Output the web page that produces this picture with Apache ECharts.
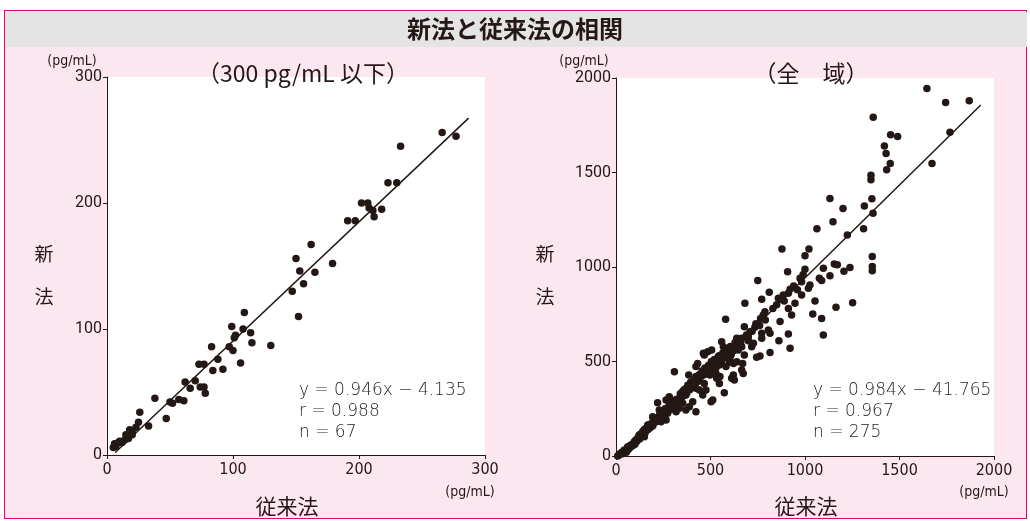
<!DOCTYPE html>
<html>
<head>
<meta charset="utf-8">
<script src="https://cdn.jsdelivr.net/npm/echarts@6.0.0/dist/echarts.min.js"></script>
<style>
  body { margin: 0; background: #fff; }
  #frame { position: absolute; left: 4px; top: 10px; width: 1021px; height: 507px; border: 1.5px solid #e5007f; background: #fce7f0; }
  #band { position: absolute; left: 5.5px; top: 11.5px; width: 1021px; height: 35px; background: #e4e4e5; }
  #chart { position: absolute; left: 0; top: 0; width: 1030px; height: 521px; }
</style>
</head>
<body>
<div id="frame"></div>
<div id="band"></div>
<div id="chart"></div>
<script>
// 300 pg/mL 以下 (従来法, 新法)
const lowPoints = [
  [266,256],[277,253],[233,245],[223,216],[230,216],[202,200],[207,200],[208,196],[211,194],[218,195],
  [191,186],[197,186],[212,189],[162,167],
  [150,156],[153,146],[165,145],[179,152],[156,136],[147,130],[152,110],
  [109,113],[99,102],[108,100],[102,95],[101,93],[114,97],[115,89],[130,87],[97,86],[100,83],[83,86],
  [88,76],[106,73],[92,68],[84,67],
  [73,72],[77,72],[62,58],[70,59],[66,53],[74,54],[77,54],[78,49],
  [50,42],[52,41],[57,44],[61,43],[38,45],[47,29],[26,34],[25,26],[33,23],[23,22],[18,20],
  [15,16],[20,16],[17,13],[14,12],[10,11],[9,10],[6,9],[5,6],[12,10],[20,18],[16,14],[7,7]
];
// 全域 (従来法, 新法)
const allPoints = [
  [1645,1945],[1744,1871],[1869,1880],[1767,1713],[1672,1547],[1361,1792],[1453,1700],[1490,1691],
  [1420,1640],[1429,1600],[1451,1547],[1432,1515],[1349,1485],[1349,1462],[1132,1363],[1201,1310],
  [1314,1323],[1354,1361],[1360,1284],[1148,1240],[1063,1203],[1310,1203],[1224,1169],[878,1095],
  [1021,1095],[1000,1060],[1356,1056],
  [1356,1002],[1356,980],[1155,1016],[1171,1012],[1238,998],[1206,977],[1132,954],[1097,993],
  [1000,988],[908,975],[750,928],[974,940],[982,922],[1076,940],[1088,928],[1026,905],[1018,887],
  [921,882],[912,861],[811,866],[771,829],[859,834],[885,852],[982,852],[682,808],[1053,820],
  [1252,811],[1164,787],[947,808],[912,781],[929,746],[1041,751],[1088,728],[788,763],[779,746],
  [580,723],[868,711],[1097,640],[765,728],[753,693],[735,681],[679,684],[806,667],[815,649],
  [771,649],[771,623],[709,658],[700,631],[912,645],[862,610],[921,570],[665,623],[639,623],
  [727,596],[718,578],[665,578],[647,561],[559,605],[568,578],[612,561],[815,547],[762,529],
  [744,522],[506,561],[462,543],[541,525],[533,499],[559,490],[586,525],[603,508],[621,490],
  [639,499],[670,490],[665,455],[673,437],[621,428],[612,411],[524,455],[515,437],[497,428],
  [550,420],[533,411],
  [679,534],[609,534],[485,552],[467,534],[432,490],[423,473],[547,481],[600,499],[582,473],
  [512,473],[494,446],[476,437],[529,437],[538,411],[547,384],[617,411],[626,402],[573,335],
  [512,296],[503,287],[441,349],[459,323],[423,358],[388,367],[379,349],[353,340],[344,314],
  [370,323],[309,446],[385,428],[423,420],[415,393],[441,411],[467,384],[476,349],[406,287],
  [388,261],[423,234],[370,243],[353,279],[335,252],[318,234],[300,252],[282,314],[265,296],
  [291,296],[220,282],[229,243],[247,226],[273,226],[265,190],[238,181],[194,208],[203,181],
  [185,155],[168,164],[159,137],[141,129],[150,102],[123,111],[115,93],[97,76],[79,58],[62,49],
  [44,32],[26,14],[9,0],
  [15,5],[20,10],[30,18],[35,12],[40,25],[50,30],[55,20],[60,40],[65,35],[70,52],[75,45],[85,60],
  [90,55],[95,70],[100,62],[105,85],[110,78],[118,100],[125,90],[130,115],[135,105],[145,120],
  [150,140],[155,125],[162,150],[170,140],[175,165],[180,150],[190,175],[195,160],[200,190],
  [210,180],[215,200],[225,195],[230,215],[240,205],[250,235],[255,215],[260,250],[270,240],
  [280,265],[285,245],[290,280],[295,260],[305,290],[310,270],
  [320,300],[330,285],[340,330],[345,300],[355,345],[360,320],[365,355],[375,335],[380,375],
  [390,350],[395,390],[400,370],[410,400],[420,385],[425,410],[435,395],[440,430],[450,420],
  [455,450],[465,430],[470,465],[480,455],[490,480],[500,460],[505,500],[515,480],[520,510],
  [530,470],[545,530],[555,510],[565,545],[575,520],[585,560],[595,540],[605,580],[620,555],
  [630,600],[640,580],[650,620],[660,600],[690,640],[700,610],[720,660],[740,700],[760,690],
  [790,720],[830,780],[850,800],[870,830],[890,820],[940,900],[960,880],[990,960]
];

// 回帰直線: 傾き, 切片, 描画する x の範囲
const lowFit = { slope: 0.946, intercept: -4.135, xRange: [6.5, 287] };
const allFit = { slope: 0.984, intercept: -41.765, xRange: [45, 1930] };

const lowStats = ['y = 0.946x − 4.135', 'r = 0.988', 'n = 67'];
const allStats = ['y = 0.984x − 41.765', 'r = 0.967', 'n = 275'];

const lowAxis = { max: 300, interval: 100 };
const allAxis = { max: 2000, interval: 500 };

const ink = '#231815';
const jp = '"Noto Sans CJK JP", sans-serif';
const narrow = '"DejaVu Sans Condensed", "Liberation Sans Narrow", sans-serif';

function fitLine(fit) {
  return fit.xRange.map(x => [x, fit.slope * x + fit.intercept]);
}

function makeX(idx, ax) {
  return {
    gridIndex: idx, type: 'value', min: 0, max: ax.max, interval: ax.interval,
    axisLine: { show: true, onZero: false, lineStyle: { color: ink, width: 1 } },
    axisTick: { show: true, length: 4, lineStyle: { color: ink } },
    splitLine: { show: false },
    axisLabel: { color: ink, fontSize: 16, margin: 7, fontFamily: narrow, formatter: v => String(v) }
  };
}
function makeY(idx, ax) {
  return {
    gridIndex: idx, type: 'value', min: 0, max: ax.max, interval: ax.interval,
    axisLine: { show: true, onZero: false, lineStyle: { color: ink, width: 1 } },
    axisTick: { show: true, length: 4, lineStyle: { color: ink } },
    splitLine: { show: false },
    axisLabel: { color: ink, fontSize: 16, margin: 5, fontFamily: 'Roboto, sans-serif', formatter: v => String(v) }
  };
}

function txt(x, y, text, style) {
  return { type: 'text', x: x, y: y, silent: true,
    style: Object.assign({ text: text, fill: ink, font: '19px ' + jp, textAlign: 'center', textVerticalAlign: 'middle' }, style || {}) };
}

const unitFont = '14px ' + narrow;
const statFont = '200 17px "DejaVu Sans", sans-serif';

const graphics = [
  txt(515, 29, '新法と従来法の相関', { font: 'bold 24px ' + jp }),
  txt(303, 73, '（300 pg/mL 以下）', { font: '23px ' + jp }),
  txt(811, 73, '（全　域）', { font: '23px ' + jp }),
  txt(72, 61, '(pg/mL)', { font: unitFont }),
  txt(584, 61, '(pg/mL)', { font: unitFont }),
  txt(470, 492, '(pg/mL)', { font: unitFont }),
  txt(984, 492, '(pg/mL)', { font: unitFont }),
  txt(44, 254, '新'), txt(44, 297, '法'),
  txt(545, 254, '新'), txt(545, 297, '法'),
  txt(287, 506, '従来法', { font: '21px ' + jp }),
  txt(806, 506, '従来法', { font: '21px ' + jp })
];
lowStats.forEach((s, i) => graphics.push(txt(299, 391 + i * 21, s, { textAlign: 'left', fill: '#222', font: statFont })));
allStats.forEach((s, i) => graphics.push(txt(813, 391 + i * 21, s, { textAlign: 'left', fill: '#222', font: statFont })));

const chart = echarts.init(document.getElementById('chart'), null, { renderer: 'canvas' });
chart.setOption({
  backgroundColor: 'transparent',
  animation: false,
  grid: [
    { left: 107, top: 77, width: 378, height: 378, show: true, backgroundColor: '#fff', borderWidth: 0 },
    { left: 616, top: 78, width: 378, height: 378, show: true, backgroundColor: '#fff', borderWidth: 0 }
  ],
  xAxis: [makeX(0, lowAxis), makeX(1, allAxis)],
  yAxis: [makeY(0, lowAxis), makeY(1, allAxis)],
  series: [
    { type: 'scatter', xAxisIndex: 0, yAxisIndex: 0, data: lowPoints, symbolSize: 7.5, itemStyle: { color: ink, opacity: 1 } },
    { type: 'line', xAxisIndex: 0, yAxisIndex: 0, data: fitLine(lowFit), symbol: 'none', lineStyle: { color: ink, width: 1.5 } },
    { type: 'scatter', xAxisIndex: 1, yAxisIndex: 1, data: allPoints, symbolSize: 7.5, itemStyle: { color: ink, opacity: 1 } },
    { type: 'line', xAxisIndex: 1, yAxisIndex: 1, data: fitLine(allFit), symbol: 'none', lineStyle: { color: ink, width: 1.5 } }
  ],
  graphic: graphics
});
</script>
</body>
</html>
